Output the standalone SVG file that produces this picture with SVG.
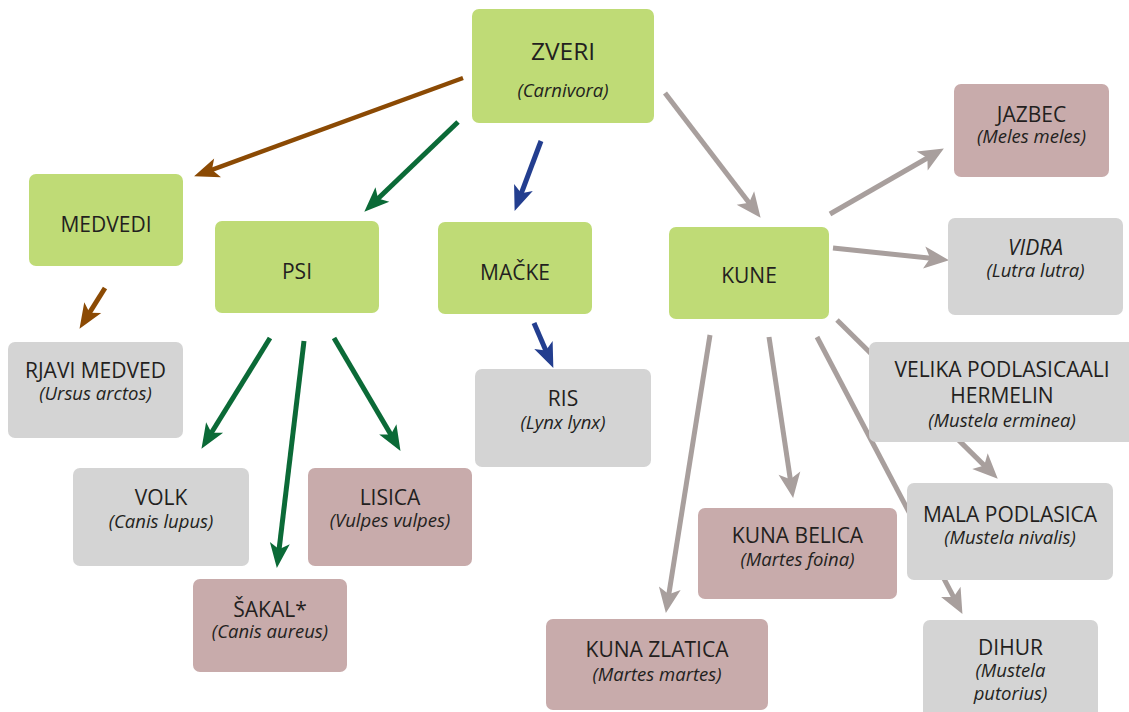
<svg xmlns="http://www.w3.org/2000/svg" width="1129" height="712" viewBox="0 0 1129 712">
<style>
.g{fill:#bfdb76}
.s{fill:#d4d4d4}
.m{fill:#c8abab}
text{font-family:"Open Sans","Noto Sans",sans-serif;fill:#231f20;text-anchor:middle}
.t{font-size:21px}
.i{font-size:18.5px;font-style:italic}
.c line{stroke-width:5;fill:none}
.br{stroke:#8b4a04}
.gr{stroke:#0b6a37}
.bl{stroke:#233e8f}
.gy{stroke:#a89f9d}
</style>
<defs>
<marker id="aBr" markerUnits="userSpaceOnUse" markerWidth="30" markerHeight="30" refX="12" refY="0" viewBox="0 -15 30 30" orient="auto" overflow="visible"><path d="M0,-10 L25,0 L0,10 L6,0 Z" fill="#8b4a04"/></marker>
<marker id="aGr" markerUnits="userSpaceOnUse" markerWidth="30" markerHeight="30" refX="12" refY="0" viewBox="0 -15 30 30" orient="auto" overflow="visible"><path d="M0,-10 L25,0 L0,10 L6,0 Z" fill="#0b6a37"/></marker>
<marker id="aBl" markerUnits="userSpaceOnUse" markerWidth="30" markerHeight="30" refX="12" refY="0" viewBox="0 -15 30 30" orient="auto" overflow="visible"><path d="M0,-10 L25,0 L0,10 L6,0 Z" fill="#233e8f"/></marker>
<marker id="aGy" markerUnits="userSpaceOnUse" markerWidth="30" markerHeight="30" refX="12" refY="0" viewBox="0 -15 30 30" orient="auto" overflow="visible"><path d="M0,-11 L25,0 L0,11 L6,0 Z" fill="#a89f9d"/></marker>
</defs>
<rect width="1129" height="712" fill="#ffffff"/>
<g id="connectors" class="c">
<line class="br" x1="463" y1="78" x2="206.3" y2="171.9" marker-end="url(#aBr)" style="stroke-width:4.5"/>
<line class="br" x1="105" y1="288" x2="86.4" y2="317.8" marker-end="url(#aBr)"/>
<line class="gr" x1="458" y1="122" x2="373.7" y2="202.7" marker-end="url(#aGr)"/>
<line class="bl" x1="541" y1="141" x2="519.2" y2="198.8" marker-end="url(#aBl)"/>
<line class="bl" x1="534" y1="323" x2="548.2" y2="356" marker-end="url(#aBl)"/>
<line class="gr" x1="270" y1="338" x2="208.3" y2="437.8" marker-end="url(#aGr)"/>
<line class="gr" x1="304" y1="341" x2="278.4" y2="555.1" marker-end="url(#aGr)"/>
<line class="gr" x1="334" y1="338" x2="393.9" y2="439.7" marker-end="url(#aGr)"/>
<line class="gy" x1="665" y1="93" x2="752.7" y2="207.5" marker-end="url(#aGy)"/>
<line class="gy" x1="830" y1="214" x2="932.6" y2="155" marker-end="url(#aGy)"/>
<line class="gy" x1="833" y1="248" x2="936.1" y2="258.8" marker-end="url(#aGy)"/>
<line class="gy" x1="710" y1="335" x2="667.9" y2="600.1" marker-end="url(#aGy)"/>
<line class="gy" x1="769" y1="337" x2="791.2" y2="485.1" marker-end="url(#aGy)"/>
<line class="gy" x1="817" y1="337" x2="956.4" y2="602.4" marker-end="url(#aGy)"/>
<line class="gy" x1="837" y1="320" x2="988.5" y2="469.6" marker-end="url(#aGy)"/>
</g>
<g id="zveri"><rect class="g" x="472" y="9" width="182" height="114" rx="7"/><text class="t" x="563" y="60" style="font-size:24.5px">ZVERI</text><text class="i" x="563" y="97">(Carnivora)</text></g>
<g id="medvedi"><rect class="g" x="29" y="174" width="154" height="92" rx="7"/><text class="t" x="106" y="232">MEDVEDI</text></g>
<g id="rjavi"><rect class="s" x="8" y="342" width="175" height="96" rx="7"/><text class="t" x="95.5" y="378">RJAVI MEDVED</text><text class="i" x="95.5" y="400">(Ursus arctos)</text></g>
<g id="psi"><rect class="g" x="215" y="221" width="164" height="92" rx="7"/><text class="t" x="297" y="279">PSI</text></g>
<g id="macke"><rect class="g" x="438" y="222" width="154" height="92" rx="7"/><text class="t" x="515" y="280">MAČKE</text></g>
<g id="kune"><rect class="g" x="669" y="227" width="160" height="92" rx="7"/><text class="t" x="749" y="283">KUNE</text></g>
<g id="ris"><rect class="s" x="475" y="369" width="176" height="98" rx="7"/><text class="t" x="563" y="406">RIS</text><text class="i" x="563" y="429">(Lynx lynx)</text></g>
<g id="volk"><rect class="s" x="73" y="468" width="176" height="98" rx="7"/><text class="t" x="161" y="505">VOLK</text><text class="i" x="161" y="528">(Canis lupus)</text></g>
<g id="lisica"><rect class="m" x="308" y="468" width="164" height="98" rx="7"/><text class="t" x="390" y="505">LISICA</text><text class="i" x="390" y="527">(Vulpes vulpes)</text></g>
<g id="sakal"><rect class="m" x="193" y="579" width="154" height="93" rx="7"/><text class="t" x="270" y="617">ŠAKAL*</text><text class="i" x="270" y="638">(Canis aureus)</text></g>
<g id="jazbec"><rect class="m" x="954" y="84" width="155" height="93" rx="7"/><text class="t" x="1031.5" y="122">JAZBEC</text><text class="i" x="1031.5" y="143">(Meles meles)</text></g>
<g id="vidra"><rect class="s" x="948" y="218" width="175" height="97" rx="7"/><text class="t" x="1035.5" y="255" style="font-style:italic">VIDRA</text><text class="i" x="1035.5" y="277">(Lutra lutra)</text></g>
<g id="velika"><rect class="s" x="869" y="342" width="268" height="100" rx="7"/><text class="t" x="1002" y="377">VELIKA PODLASICAALI</text><text class="t" x="1002" y="403">HERMELIN</text><text class="i" x="1002" y="427">(Mustela erminea)</text></g>
<g id="mala"><rect class="s" x="907" y="483" width="206" height="97" rx="7"/><text class="t" x="1010" y="522">MALA PODLASICA</text><text class="i" x="1010" y="544">(Mustela nivalis)</text></g>
<g id="dihur"><rect class="s" x="923" y="620" width="175" height="100" rx="7"/><text class="t" x="1010.5" y="655">DIHUR</text><text class="i" x="1010.5" y="677">(Mustela</text><text class="i" x="1010.5" y="700">putorius)</text></g>
<g id="belica"><rect class="m" x="698" y="508" width="199" height="91" rx="7"/><text class="t" x="797.5" y="543">KUNA BELICA</text><text class="i" x="797.5" y="566">(Martes foina)</text></g>
<g id="zlatica"><rect class="m" x="546" y="619" width="222" height="91" rx="7"/><text class="t" x="657" y="657">KUNA ZLATICA</text><text class="i" x="657" y="681">(Martes martes)</text></g>
</svg>
